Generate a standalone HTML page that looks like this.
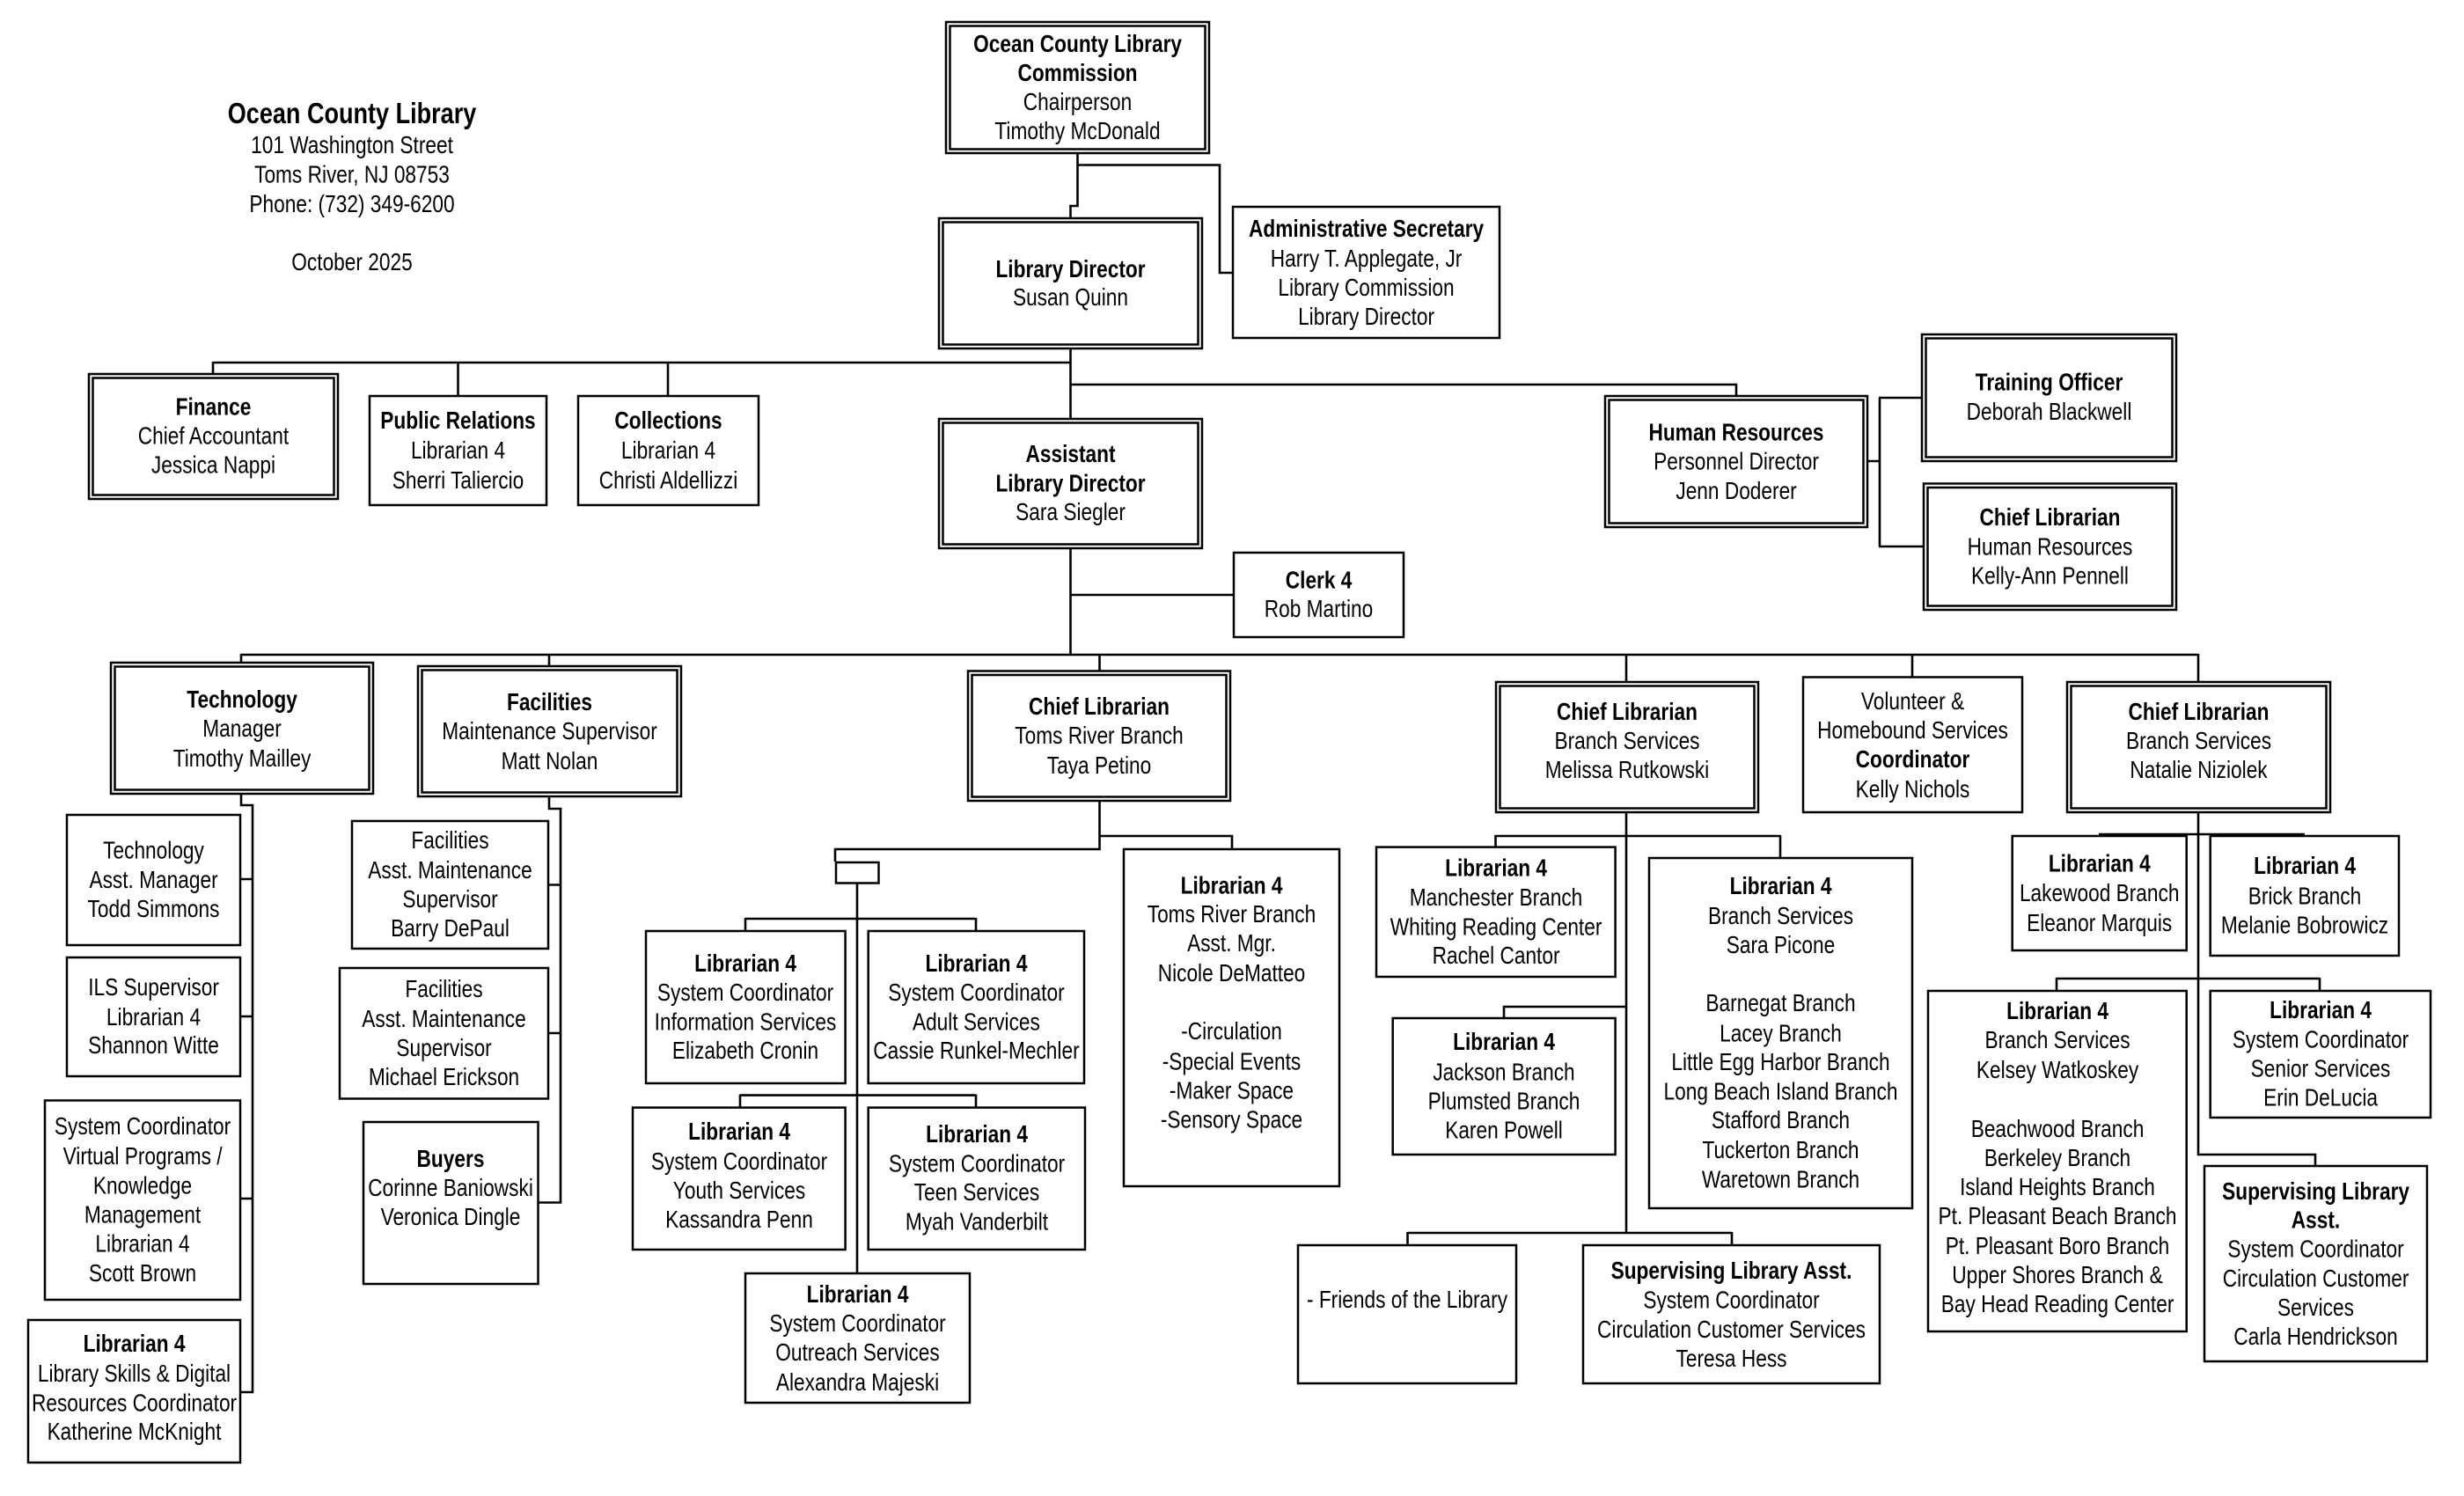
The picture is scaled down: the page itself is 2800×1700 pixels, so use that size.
<!DOCTYPE html>
<html><head><meta charset="utf-8"><style>
html,body{margin:0;padding:0;background:#fff;}
svg{display:block;}
text{font-family:"Liberation Sans",Arial,sans-serif;font-size:28px;text-anchor:middle;fill:#000;transform-box:fill-box;transform-origin:center;transform:scaleX(.81);}
.b{font-weight:bold;}
.t{font-size:33px;font-weight:bold;transform:scaleX(.82);}
rect{fill:none;stroke:#000;stroke-width:2.5;}
path{fill:none;stroke:#000;stroke-width:2.6;}
</style></head><body>
<svg width="2800" height="1700" viewBox="0 0 2800 1700" xmlns="http://www.w3.org/2000/svg">
<rect x="0" y="0" width="2800" height="1700" style="fill:#fff;stroke:none"/>

<!-- Title -->
<text class="t" x="400" y="140">Ocean County Library</text>
<text x="400" y="174">101 Washington Street</text>
<text x="400" y="207.5">Toms River, NJ 08753</text>
<text x="400" y="241">Phone: (732) 349-6200</text>
<text x="400" y="307">October 2025</text>

<!-- Connectors -->
<path d="M1224.5,175 V234 H1216.5 V247"/>
<path d="M1224.5,187.5 H1386 V310 H1400"/>
<path d="M1216.5,397 V475"/>
<path d="M242,412 H1216.5 M242,411 V424 M520.5,412 V449 M759,412 V449"/>
<path d="M1216.5,437 H1973 V449"/>
<path d="M2123,524 H2136 M2136,452 V621 M2135,452 H2183 M2135,621 H2185"/>
<path d="M1216.5,624 V744 M1216.5,676 H1401"/>
<path d="M274,744 H2498 M274,743 V752 M624,744 V756 M1249.5,744 V761.5 M1848,744 V774 M2173,744 V768.5 M2498,743 V774"/>
<path d="M274,903 V915 H287 V1582 H274 M287,999 H274 M287,1155 H274 M287,1362 H274"/>
<path d="M624,906 V919 H637 V1366.5 H612.5 M637,1005.5 H624 M637,1174 H624"/>
<path d="M1249.5,911 V965 H949 V979 M1249.5,950 H1400 V964 M974,1004.5 V1446"/>
<path d="M847,1044 H1109 M847,1043 V1057 M1109,1043 V1057"/>
<path d="M841,1244.6 H1109 M841,1243.6 V1257.6 M1109,1243.6 V1257.6"/>
<path d="M1848,924 V1401 M1699.5,950 H2023 M1699.5,949 V961.6 M2023,949 V974 M1848,1144 H1709 V1156"/>
<path d="M1599.5,1401 H1968 M1599.5,1400 V1414 M1968,1400 V1414"/>
<path d="M2498,924 V1312 H2631 V1324 M2385,948 H2619 M2337,1112 H2636 M2337,1111 V1125 M2636,1111 V1125"/>

<!-- Boxes -->
<rect x="1075" y="25" width="299" height="149"/><rect x="1079.5" y="29.5" width="290" height="140"/>
<rect x="1067" y="248" width="299" height="148"/><rect x="1071.5" y="252.5" width="290" height="139"/>
<rect x="1401" y="235" width="303" height="149"/>
<rect x="101" y="425" width="283" height="142"/><rect x="105.5" y="429.5" width="274" height="133"/>
<rect x="420" y="450" width="201" height="124"/>
<rect x="657" y="450" width="205" height="124"/>
<rect x="1067" y="476" width="299" height="147"/><rect x="1071.5" y="480.5" width="290" height="138"/>
<rect x="1824" y="450" width="298" height="149"/><rect x="1828.5" y="454.5" width="289" height="140"/>
<rect x="2184" y="380" width="289" height="144"/><rect x="2188.5" y="384.5" width="280" height="135"/>
<rect x="2186" y="549.5" width="287" height="143.5"/><rect x="2190.5" y="554" width="278" height="134.5"/>
<rect x="1402" y="628" width="193" height="96"/>
<rect x="126" y="753" width="298" height="149"/><rect x="130.5" y="757.5" width="289" height="140"/>
<rect x="475" y="757" width="299" height="148"/><rect x="479.5" y="761.5" width="290" height="139"/>
<rect x="1100" y="762.5" width="298" height="147.5"/><rect x="1104.5" y="767" width="289" height="138.5"/>
<rect x="1700" y="775" width="298" height="148"/><rect x="1704.5" y="779.5" width="289" height="139"/>
<rect x="2049" y="769.5" width="249" height="153.5"/>
<rect x="2349" y="775" width="299" height="148"/><rect x="2353.5" y="779.5" width="290" height="139"/>
<rect x="76" y="926" width="197" height="148"/>
<rect x="76" y="1088" width="197" height="135"/>
<rect x="51" y="1250.5" width="222" height="226.5"/>
<rect x="32" y="1500" width="241" height="162"/>
<rect x="400" y="933" width="223" height="145"/>
<rect x="386" y="1100" width="237" height="148.5"/>
<rect x="413" y="1275" width="198.5" height="184"/>
<rect x="950" y="980" width="48.5" height="23.5"/>
<rect x="734" y="1058" width="226.6" height="173"/>
<rect x="986.7" y="1058" width="245.3" height="173"/>
<rect x="719" y="1258.6" width="241.6" height="161.4"/>
<rect x="986.7" y="1258.6" width="246.3" height="161.4"/>
<rect x="847" y="1447" width="255" height="147"/>
<rect x="1277" y="965" width="245" height="383"/>
<rect x="1564" y="962.6" width="271.6" height="147.4"/>
<rect x="1582.7" y="1157" width="252.9" height="155"/>
<rect x="1874" y="975" width="299" height="398"/>
<rect x="1475" y="1415" width="248" height="157"/>
<rect x="1799" y="1415" width="337" height="157"/>
<rect x="2286.7" y="950" width="198" height="130"/>
<rect x="2511.7" y="950" width="214.3" height="136"/>
<rect x="2191" y="1126" width="293.7" height="387"/>
<rect x="2511.7" y="1126" width="250.3" height="144"/>
<rect x="2505" y="1325" width="253" height="222"/>

<!-- Box text -->
<text class="b" x="1224.5" y="59">Ocean County Library</text>
<text class="b" x="1224.5" y="92">Commission</text>
<text x="1224.5" y="125">Chairperson</text>
<text x="1224.5" y="158">Timothy McDonald</text>

<text class="b" x="1216.5" y="315">Library Director</text>
<text x="1216.5" y="347">Susan Quinn</text>

<text class="b" x="1552.5" y="269">Administrative Secretary</text>
<text x="1552.5" y="303">Harry T. Applegate, Jr</text>
<text x="1552.5" y="336">Library Commission</text>
<text x="1552.5" y="369">Library Director</text>

<text class="b" x="242.5" y="471.5">Finance</text>
<text x="242.5" y="504.5">Chief Accountant</text>
<text x="242.5" y="537.5">Jessica Nappi</text>

<text class="b" x="520.5" y="487">Public Relations</text>
<text x="520.5" y="521">Librarian 4</text>
<text x="520.5" y="555">Sherri Taliercio</text>

<text class="b" x="759.5" y="487">Collections</text>
<text x="759.5" y="521">Librarian 4</text>
<text x="759.5" y="555">Christi Aldellizzi</text>

<text class="b" x="1216.5" y="525">Assistant</text>
<text class="b" x="1216.5" y="558.5">Library Director</text>
<text x="1216.5" y="591">Sara Siegler</text>

<text class="b" x="1973" y="500.5">Human Resources</text>
<text x="1973" y="533.5">Personnel Director</text>
<text x="1973" y="567">Jenn Doderer</text>

<text class="b" x="2328.5" y="443.5">Training Officer</text>
<text x="2328.5" y="477">Deborah Blackwell</text>

<text class="b" x="2329.5" y="597">Chief Librarian</text>
<text x="2329.5" y="630.5">Human Resources</text>
<text x="2329.5" y="663.6">Kelly-Ann Pennell</text>

<text class="b" x="1498.5" y="668.5">Clerk 4</text>
<text x="1498.5" y="701">Rob Martino</text>

<text class="b" x="275" y="804">Technology</text>
<text x="275" y="837">Manager</text>
<text x="275" y="871">Timothy Mailley</text>

<text class="b" x="624.5" y="807">Facilities</text>
<text x="624.5" y="840">Maintenance Supervisor</text>
<text x="624.5" y="874">Matt Nolan</text>

<text class="b" x="1249" y="812">Chief Librarian</text>
<text x="1249" y="845">Toms River Branch</text>
<text x="1249" y="879">Taya Petino</text>

<text class="b" x="1849" y="818">Chief Librarian</text>
<text x="1849" y="851">Branch Services</text>
<text x="1849" y="884">Melissa Rutkowski</text>

<text x="2173.5" y="806">Volunteer &amp;</text>
<text x="2173.5" y="839">Homebound Services</text>
<text class="b" x="2173.5" y="872">Coordinator</text>
<text x="2173.5" y="906">Kelly Nichols</text>

<text class="b" x="2498.5" y="818">Chief Librarian</text>
<text x="2498.5" y="851">Branch Services</text>
<text x="2498.5" y="884">Natalie Niziolek</text>

<text x="174.5" y="975.5">Technology</text>
<text x="174.5" y="1009">Asst. Manager</text>
<text x="174.5" y="1042">Todd Simmons</text>

<text x="174.5" y="1131">ILS Supervisor</text>
<text x="174.5" y="1165">Librarian 4</text>
<text x="174.5" y="1197">Shannon Witte</text>

<text x="162" y="1289">System Coordinator</text>
<text x="162" y="1323">Virtual Programs /</text>
<text x="162" y="1356.5">Knowledge</text>
<text x="162" y="1389.5">Management</text>
<text x="162" y="1422.6">Librarian 4</text>
<text x="162" y="1456">Scott Brown</text>

<text class="b" x="152.5" y="1536">Librarian 4</text>
<text x="152.5" y="1570">Library Skills &amp; Digital</text>
<text x="152.5" y="1603.6">Resources Coordinator</text>
<text x="152.5" y="1636">Katherine McKnight</text>

<text x="511.5" y="964">Facilities</text>
<text x="511.5" y="998">Asst. Maintenance</text>
<text x="511.5" y="1031">Supervisor</text>
<text x="511.5" y="1064">Barry DePaul</text>

<text x="504.5" y="1133">Facilities</text>
<text x="504.5" y="1167">Asst. Maintenance</text>
<text x="504.5" y="1200">Supervisor</text>
<text x="504.5" y="1233">Michael Erickson</text>

<text class="b" x="512" y="1326">Buyers</text>
<text x="512" y="1359">Corinne Baniowski</text>
<text x="512" y="1392">Veronica Dingle</text>

<text class="b" x="847" y="1104">Librarian 4</text>
<text x="847" y="1137">System Coordinator</text>
<text x="847" y="1170.6">Information Services</text>
<text x="847" y="1203">Elizabeth Cronin</text>

<text class="b" x="1109.4" y="1104">Librarian 4</text>
<text x="1109.4" y="1137">System Coordinator</text>
<text x="1109.4" y="1170.6">Adult Services</text>
<text x="1109.4" y="1203">Cassie Runkel-Mechler</text>

<text class="b" x="840" y="1295">Librarian 4</text>
<text x="840" y="1329">System Coordinator</text>
<text x="840" y="1362">Youth Services</text>
<text x="840" y="1395">Kassandra Penn</text>

<text class="b" x="1110" y="1298">Librarian 4</text>
<text x="1110" y="1331.5">System Coordinator</text>
<text x="1110" y="1364">Teen Services</text>
<text x="1110" y="1397.7">Myah Vanderbilt</text>

<text class="b" x="974.5" y="1480">Librarian 4</text>
<text x="974.5" y="1513">System Coordinator</text>
<text x="974.5" y="1546">Outreach Services</text>
<text x="974.5" y="1580">Alexandra Majeski</text>

<text class="b" x="1399.5" y="1015.5">Librarian 4</text>
<text x="1399.5" y="1048">Toms River Branch</text>
<text x="1399.5" y="1081">Asst. Mgr.</text>
<text x="1399.5" y="1115">Nicole DeMatteo</text>
<text x="1399.5" y="1181">-Circulation</text>
<text x="1399.5" y="1215.5">-Special Events</text>
<text x="1399.5" y="1248.6">-Maker Space</text>
<text x="1399.5" y="1281.7">-Sensory Space</text>

<text class="b" x="1700" y="995.5">Librarian 4</text>
<text x="1700" y="1029">Manchester Branch</text>
<text x="1700" y="1062.7">Whiting Reading Center</text>
<text x="1700" y="1095">Rachel Cantor</text>

<text class="b" x="1709" y="1193">Librarian 4</text>
<text x="1709" y="1227.5">Jackson Branch</text>
<text x="1709" y="1260.5">Plumsted Branch</text>
<text x="1709" y="1293.6">Karen Powell</text>

<text class="b" x="2023.5" y="1016">Librarian 4</text>
<text x="2023.5" y="1050">Branch Services</text>
<text x="2023.5" y="1083">Sara Picone</text>
<text x="2023.5" y="1149">Barnegat Branch</text>
<text x="2023.5" y="1183.6">Lacey Branch</text>
<text x="2023.5" y="1216">Little Egg Harbor Branch</text>
<text x="2023.5" y="1249.7">Long Beach Island Branch</text>
<text x="2023.5" y="1282">Stafford Branch</text>
<text x="2023.5" y="1316">Tuckerton Branch</text>
<text x="2023.5" y="1349.4">Waretown Branch</text>

<text x="1599" y="1486">- Friends of the Library</text>

<text class="b" x="1967.5" y="1453">Supervising Library Asst.</text>
<text x="1967.5" y="1486.6">System Coordinator</text>
<text x="1967.5" y="1520">Circulation Customer Services</text>
<text x="1967.5" y="1553">Teresa Hess</text>

<text class="b" x="2385.7" y="990.6">Librarian 4</text>
<text x="2385.7" y="1024">Lakewood Branch</text>
<text x="2385.7" y="1058">Eleanor Marquis</text>

<text class="b" x="2619" y="993">Librarian 4</text>
<text x="2619" y="1027.5">Brick Branch</text>
<text x="2619" y="1060.5">Melanie Bobrowicz</text>

<text class="b" x="2338" y="1158">Librarian 4</text>
<text x="2338" y="1191">Branch Services</text>
<text x="2338" y="1225">Kelsey Watkoskey</text>
<text x="2338" y="1292">Beachwood Branch</text>
<text x="2338" y="1325">Berkeley Branch</text>
<text x="2338" y="1358">Island Heights Branch</text>
<text x="2338" y="1391">Pt. Pleasant Beach Branch</text>
<text x="2338" y="1425">Pt. Pleasant Boro Branch</text>
<text x="2338" y="1458">Upper Shores Branch &amp;</text>
<text x="2338" y="1491">Bay Head Reading Center</text>

<text class="b" x="2637" y="1157">Librarian 4</text>
<text x="2637" y="1190.6">System Coordinator</text>
<text x="2637" y="1223.7">Senior Services</text>
<text x="2637" y="1256.7">Erin DeLucia</text>

<text class="b" x="2631.5" y="1363">Supervising Library</text>
<text class="b" x="2631.5" y="1395.5">Asst.</text>
<text x="2631.5" y="1428.6">System Coordinator</text>
<text x="2631.5" y="1462">Circulation Customer</text>
<text x="2631.5" y="1495">Services</text>
<text x="2631.5" y="1528">Carla Hendrickson</text>
</svg>
</body></html>
